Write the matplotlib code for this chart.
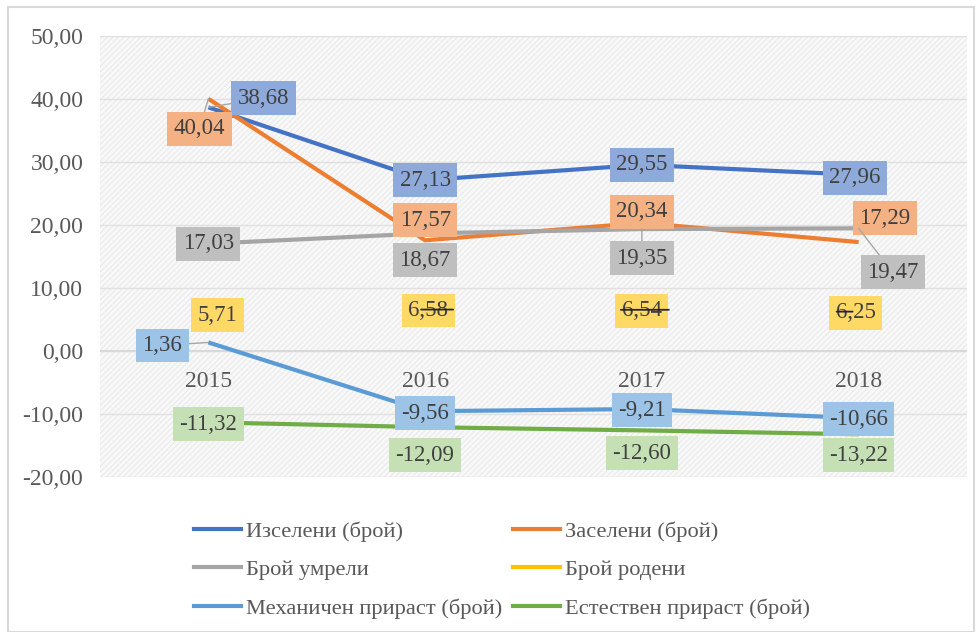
import numpy as np
import matplotlib.pyplot as plt
from matplotlib.patches import Rectangle
from matplotlib.lines import Line2D

plt.rcParams['font.family'] = ['Liberation Serif', 'DejaVu Serif']
plt.rcParams['hatch.linewidth'] = 0.6

years = ['2015', '2016', '2017', '2018']
izseleni = [38.68, 27.13, 29.55, 27.96]
zaseleni = [40.04, 17.57, 20.34, 17.29]
umreli = [17.03, 18.67, 19.35, 19.47]
rodeni = [5.71, 6.58, 6.54, 6.25]
mehanichen = [1.36, -9.56, -9.21, -10.66]
estestven = [-11.32, -12.09, -12.60, -13.22]

names = ['Изселени (брой)', 'Заселени (брой)', 'Брой умрели', 'Брой родени',
         'Механичен прираст (брой)', 'Естествен прираст (брой)']
line_colors = ['#4472c4', '#ed7d31', '#a5a5a5', '#ffc000', '#5b9bd5', '#70ad47']
box_colors = ['#8eaadb', '#f4b183', '#bfbfbf', '#ffd966', '#9dc3e6', '#c5e0b4']

# label offsets in pixels (dx, dy) per series / year
offsets = [
    [(55, 9), (0, 0), (0, 0), (-4, -3)],
    [(-9, -30), (0, 20), (0, 11), (26, 24)],
    [(0, 0), (0, -27), (0, -29), (34, -44)],
    [(9, 0), (3, -1), (0, -1), (-3, -1)],
    [(-46, -3), (0, -2), (0, -1), (0, -1)],
    [(0, -2), (0, -28), (0, -23), (0, -21)],
]
leaders = {(0, 0), (1, 0), (4, 0), (2, 2), (2, 3)}
# dark leader strokes over the "Брой родени" labels (pixel ranges)
strikes = {1: (-4, 28), 2: (-21, 27), 3: (-22, -6)}

fig = plt.figure(figsize=(9.78, 6.32), dpi=100)
fig.patches.append(Rectangle((8 / 978, 0), 966 / 978, 625 / 632, transform=fig.transFigure,
                             fill=False, edgecolor='#d9d9d9', lw=1.5))

ax = fig.add_axes([100 / 978, 1 - 477 / 632, 867 / 978, 441 / 632])
ax.set_facecolor('#f7f7f7')
ax.add_patch(Rectangle((0, 0), 1, 1, transform=ax.transAxes, facecolor='#f8f8f8',
                       edgecolor='#e6e6e6', hatch='//////', lw=0, zorder=0))

px = 4 / 867.0  # data units per pixel on x
x = np.arange(len(years))
series = [izseleni, zaseleni, umreli, rodeni, mehanichen, estestven]
for i, (vals, name) in enumerate(zip(series, names)):
    ls = 'none' if i == 3 else '-'
    ax.plot(x, vals, color=line_colors[i], lw=3, ls=ls, zorder=3, solid_capstyle='butt')
    for j, v in enumerate(vals):
        dx, dy = offsets[i][j]
        arrow = None
        if (i, j) in leaders:
            arrow = dict(arrowstyle='-', color='#a6a6a6', lw=1, shrinkA=0, shrinkB=0)
        ax.annotate(('%.2f' % v).replace('.', ','), (x[j], v), xytext=(dx, dy),
                    textcoords='offset pixels', ha='center', va='center',
                    fontsize=16.5, color='#404040', zorder=5, arrowprops=arrow,
                    bbox=dict(boxstyle='square,pad=0.28', fc=box_colors[i], ec='none'))

for j, (a, b) in strikes.items():
    ax.annotate('', xy=(x[j] + a * px, rodeni[j]), xytext=(x[j] + b * px, rodeni[j]),
                arrowprops=dict(arrowstyle='-', color='#262626', lw=1.3,
                                shrinkA=0, shrinkB=0), zorder=6)

ax.set_xlim(-0.5, 3.5)
ax.set_ylim(-20, 50)
ticks = np.arange(-20, 51, 10)
ax.set_yticks(ticks)
ax.set_yticklabels([('%.2f' % t).replace('.', ',') for t in ticks])
ax.tick_params(axis='y', length=0, pad=12, labelsize=17, labelcolor='#595959')
ax.set_xticks([])
ax.grid(axis='y', color='#e0e0e0', lw=1)
ax.set_axisbelow(True)
for s in ax.spines.values():
    s.set_visible(False)
ax.axhline(0, color='#d9d9d9', lw=1.5, zorder=1)

for j, yr in enumerate(years):
    ax.text(x[j], -3.2, yr, ha='center', va='top', fontsize=17,
            color='#595959', zorder=2)

# legend filled row by row like the original
handles = [Line2D([], [], color=c, lw=3) for c in line_colors]
order = [0, 2, 4, 1, 3, 5]
fig.legend([handles[k] for k in order], [names[k] for k in order],
           loc='upper left', bbox_to_anchor=(174 / 978, 1 - 501 / 632), ncol=2,
           frameon=False, fontsize=16.2, handlelength=2.1, handletextpad=0.22,
           columnspacing=0.45, labelspacing=0.78, labelcolor='#595959')

fig.savefig('out.png', dpi=100)
